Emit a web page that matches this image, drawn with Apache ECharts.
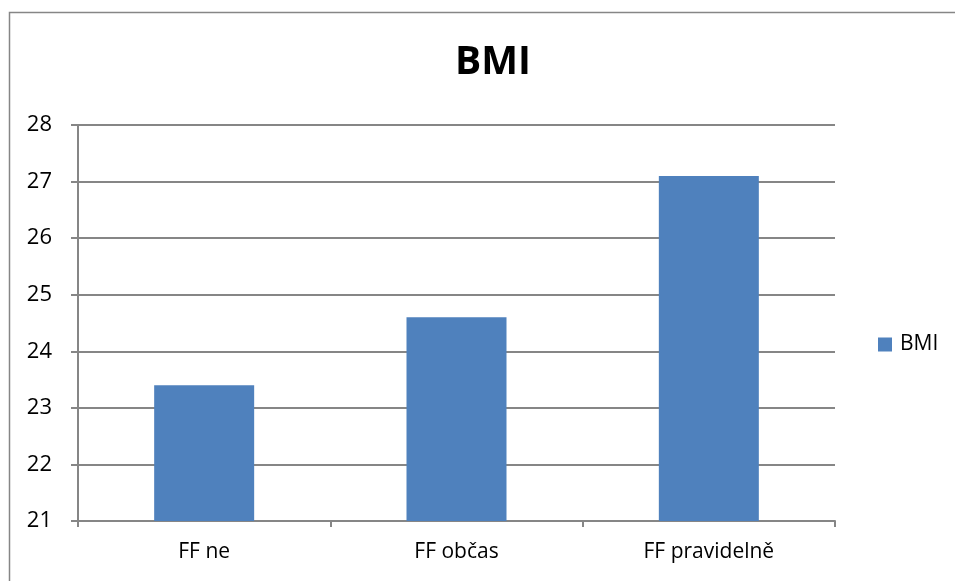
<!DOCTYPE html>
<html>
<head>
<meta charset="utf-8">
<script src="https://cdn.jsdelivr.net/npm/echarts@6/dist/echarts.min.js"></script>
<style>
  html, body { margin: 0; padding: 0; background: #fff; overflow: hidden; }
  #chart { width: 955px; height: 581px; }
</style>
</head>
<body>
<div id="chart"></div>
<script>
// Average BMI by frequency of physical activity
const categories = ['FF ne', 'FF občas', 'FF pravidelně'];
const seriesName = 'BMI';
const bmiValues = [23.4, 24.6, 27.1];
const yTicks = [21, 22, 23, 24, 25, 26, 27, 28];

const FONT = '"Open Sans", "Liberation Sans", sans-serif';
const LINE = '#868686';

const chart = echarts.init(document.getElementById('chart'), null, { renderer: 'canvas' });

chart.setOption({
  animation: false,
  backgroundColor: '#ffffff',
  graphic: [{
    type: 'rect',
    shape: { x: 9.5, y: 12.5, width: 2000, height: 2000 },
    style: { fill: 'none', stroke: LINE, lineWidth: 1.5 },
    silent: true
  }],
  title: {
    text: seriesName,
    left: 450,
    top: 38,
    textStyle: { fontFamily: FONT, fontWeight: 'bold', fontSize: 39, color: '#000' }
  },
  legend: {
    data: [seriesName],
    left: 873,
    top: 329,
    itemWidth: 14,
    itemHeight: 14,
    icon: 'rect',
    textStyle: { fontFamily: FONT, fontSize: 21, color: '#000', padding: [0, 0, 0, 3] }
  },
  grid: { left: 78, right: 120, top: 125, bottom: 60, containLabel: false },
  xAxis: {
    type: 'category',
    data: categories,
    axisLine: { lineStyle: { color: LINE, width: 2 } },
    axisTick: { show: true, length: 6, alignWithLabel: false, lineStyle: { color: LINE, width: 2 } },
    axisLabel: { fontFamily: FONT, fontSize: 21, color: '#000', margin: 21 },
    splitLine: { show: false }
  },
  yAxis: {
    type: 'value',
    min: yTicks[0],
    max: yTicks[yTicks.length - 1],
    interval: 1,
    axisLine: { show: true, lineStyle: { color: LINE, width: 2 } },
    axisTick: { show: true, length: 7, lineStyle: { color: LINE, width: 2 } },
    axisLabel: { fontFamily: FONT, fontSize: 22, color: '#000', margin: 26 },
    splitLine: { show: true, lineStyle: { color: LINE, width: 2 } }
  },
  series: [{
    name: seriesName,
    type: 'bar',
    data: bmiValues,
    barWidth: 100,
    itemStyle: { color: '#4F81BD' }
  }]
});
</script>
</body>
</html>
